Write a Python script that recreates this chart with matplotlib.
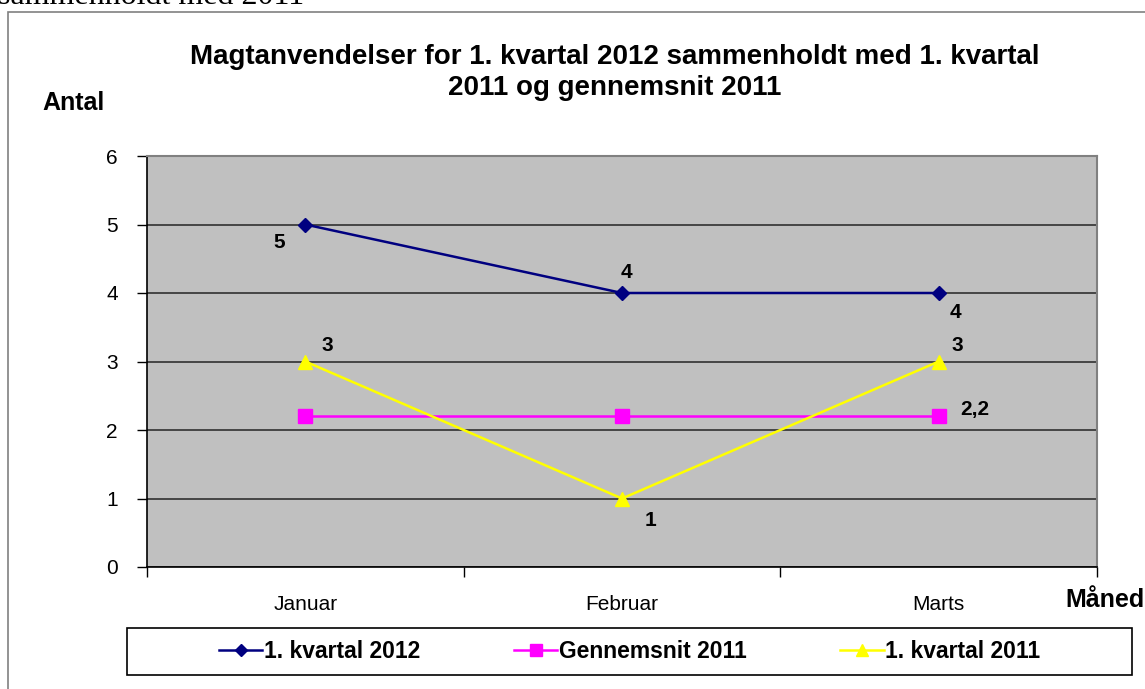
import matplotlib
matplotlib.use("Agg")
import matplotlib.pyplot as plt
from matplotlib.patches import Rectangle
from matplotlib.lines import Line2D

plt.rcParams['font.family'] = ['Liberation Sans', 'DejaVu Sans']

months = ["Januar", "Februar", "Marts"]
kvartal_2012 = [5, 4, 4]
gennemsnit_2011 = [2.2, 2.2, 2.2]
kvartal_2011 = [3, 1, 3]
y_ticks = [0, 1, 2, 3, 4, 5, 6]

W, H = 1145, 689
fig = plt.figure(figsize=(W / 100, H / 100), dpi=100)

def fx(px):
    return px / W

def fy(py):
    return 1 - py / H

# outer chart border (clipped at right/bottom)
fig.patches.append(Rectangle((fx(8), fy(760)), fx(1200), fy(12) - fy(760),
                             transform=fig.transFigure, fill=False,
                             edgecolor='#808080', lw=1.2))

# clipped document text at top
fig.text(fx(-2), fy(4), "sammenholdt med 2011", family='Liberation Serif',
         fontsize=23, ha='left', va='baseline')

ax = fig.add_axes([fx(147), fy(567), fx(1097) - fx(147), fy(156) - fy(567)])
ax.set_facecolor('#C0C0C0')
x = list(range(len(months)))

ax.plot(x, kvartal_2012, color='#000080', lw=1.8, marker='D', ms=7,
        label='1. kvartal 2012', zorder=4)
ax.plot(x, gennemsnit_2011, color='#FF00FF', lw=1.8, marker='s', ms=10,
        label='Gennemsnit 2011', zorder=3)
ax.plot(x, kvartal_2011, color='#FFFF00', lw=1.8, marker='^', ms=10,
        label='1. kvartal 2011', zorder=3)

ax.set_xlim(-0.5, len(months) - 0.5)
ax.set_ylim(0, 6)
ax.set_yticks(y_ticks)
ax.set_yticklabels([str(v) for v in y_ticks], fontsize=15)
ax.yaxis.grid(True, color='#303030', lw=1.2)
ax.set_axisbelow(True)

ax.set_xticks(x)
ax.set_xticklabels(months, fontsize=15)
ax.tick_params(axis='x', length=0, pad=20)
ax.set_xticks([-0.5, 0.5, 1.5, 2.5], minor=True)
ax.tick_params(axis='x', which='minor', length=7, width=1, direction='out')
ax.tick_params(axis='y', length=7, width=1, direction='out', pad=14)

for s in ['left', 'bottom']:
    ax.spines[s].set_color('black')
    ax.spines[s].set_linewidth(1.2)
for s in ['top', 'right']:
    ax.spines[s].set_color('#808080')
    ax.spines[s].set_linewidth(1.5)

# data labels
lab_kw = dict(textcoords='offset pixels', fontsize=15, fontweight='bold',
              ha='center', va='center')
def lbl(text, xi, yi, dx, dy):
    ax.annotate(text, (xi, yi), xytext=(dx, dy), **lab_kw)

lbl(str(kvartal_2012[0]), 0, kvartal_2012[0], -26, -18)
lbl(str(kvartal_2012[1]), 1, kvartal_2012[1], 4, 21)
lbl(str(kvartal_2012[2]), 2, kvartal_2012[2], 17, -20)
lbl(str(kvartal_2011[0]), 0, kvartal_2011[0], 22, 16)
lbl(str(kvartal_2011[1]), 1, kvartal_2011[1], 28, -22)
lbl(str(kvartal_2011[2]), 2, kvartal_2011[2], 19, 16)
lbl(str(gennemsnit_2011[2]).replace('.', ','), 2, gennemsnit_2011[2], 36, 7)

# titles
fig.text(fx(615), fy(57), "Magtanvendelser for 1. kvartal 2012 sammenholdt med 1. kvartal",
         ha='center', va='center', fontsize=20, fontweight='bold')
fig.text(fx(615), fy(88), "2011 og gennemsnit 2011",
         ha='center', va='center', fontsize=20, fontweight='bold')
fig.text(fx(42), fy(103), "Antal", ha='left', va='center', fontsize=18, fontweight='bold')
fig.text(fx(1065), fy(600), "Måned", ha='left', va='center', fontsize=18, fontweight='bold')

# legend box
fig.patches.append(Rectangle((fx(127), fy(675)), fx(1132) - fx(127), fy(628) - fy(675),
                             transform=fig.transFigure, fill=False,
                             edgecolor='black', lw=1.2))
handles, labels = ax.get_legend_handles_labels()
handles = [Line2D([], [], color='#000080', lw=1.8, marker='D', ms=6),
           Line2D([], [], color='#FF00FF', lw=1.8, marker='s', ms=8),
           Line2D([], [], color='#FFFF00', lw=1.8, marker='^', ms=8)]
leg = fig.legend(handles, labels, loc='center',
                 bbox_to_anchor=(fx(629.5), fy(651.5)), ncol=3,
                 frameon=False, prop={'size': 16.5, 'weight': 'bold'},
                 handlelength=1.9, handletextpad=0.05, columnspacing=4.1,
                 borderpad=0.3, borderaxespad=0)

fig.savefig("out.png", dpi=100)
